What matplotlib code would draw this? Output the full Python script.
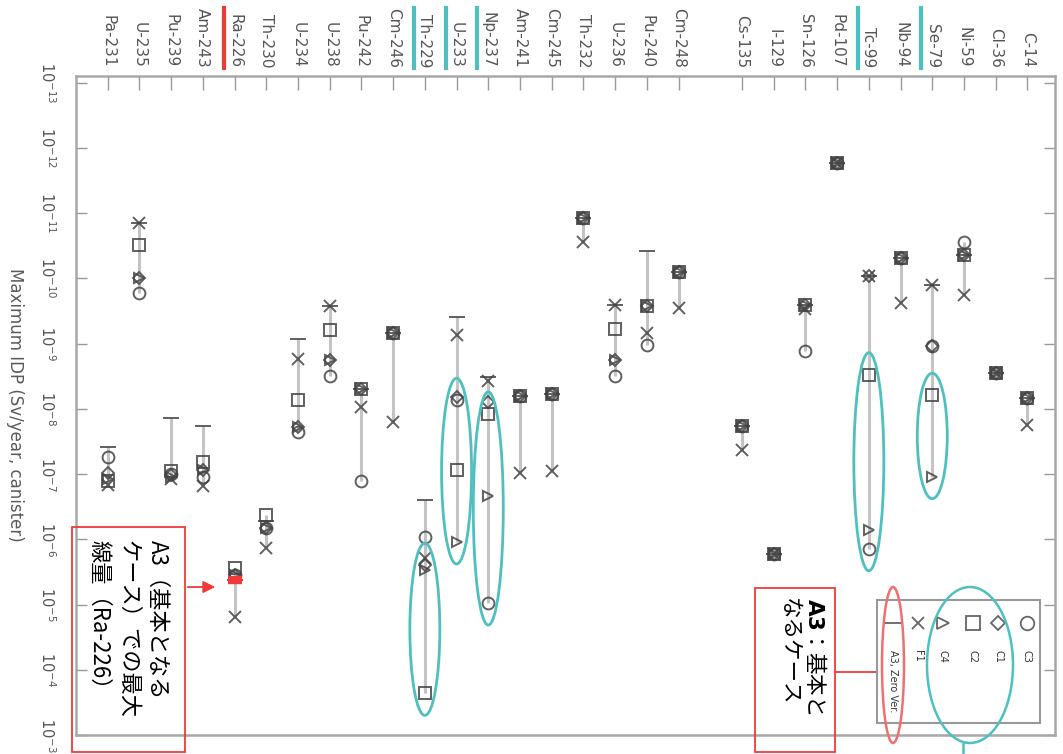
import numpy as np
import matplotlib
matplotlib.use("Agg")
import matplotlib.pyplot as plt
from matplotlib.patches import Ellipse, Rectangle, FancyArrowPatch
from matplotlib.lines import Line2D
from matplotlib.ticker import NullLocator

# ---------------- data ----------------
nuclides = ["Pa-231", "U-235", "Pu-239", "Am-243", "Ra-226", "Th-230", "U-234", "U-238",
            "Pu-242", "Cm-246", "Th-229", "U-233", "Np-237", "Am-241", "Cm-245", "Th-232",
            "U-236", "Pu-240", "Cm-248",
            "Cs-135", "I-129", "Sn-126", "Pd-107", "Tc-99", "Nb-94", "Se-79", "Ni-59",
            "Cl-36", "C-14"]
n_actinides = 19  # a blank slot separates actinides from fission/activation products

C3 = [5.4e-8, 1.7e-10, 1.0e-7, 1.1e-7, 3.5e-6, 6.8e-7, 2.3e-8, 3.2e-9, 1.26e-7, 6.9e-10,
      9.1e-7, 7.4e-9, 9.5e-6, 6.3e-9, 5.9e-9, 1.2e-11, 3.2e-9, 1.05e-9, 8.0e-11,
      1.85e-8, 1.66e-6, 1.3e-9, 1.7e-12, 1.4e-6, 4.9e-11, 1.1e-9, 2.8e-11, 2.8e-9, 6.9e-9]
C1 = [9.5e-8, 1.0e-10, 1.05e-7, 8.7e-8, 3.5e-6, 6.8e-7, 1.9e-8, 1.8e-9, 5.0e-9, 6.9e-10,
      2.5e-6, 6.6e-9, 8.0e-9, 6.3e-9, 5.9e-9, 1.2e-11, 1.8e-9, 2.7e-10, 8.0e-11,
      1.85e-8, 1.66e-6, 2.6e-10, 1.7e-12, 9.3e-11, 4.9e-11, 1.1e-9, 4.4e-11, 2.8e-9, 6.9e-9]
C2 = [1.3e-7, 3.1e-11, 9.0e-8, 6.5e-8, 2.8e-6, 4.3e-7, 7.4e-9, 6.2e-10, 5.0e-9, 6.9e-10,
      2.3e-4, 8.7e-8, 1.2e-8, 6.3e-9, 5.9e-9, 1.2e-11, 5.9e-10, 2.7e-10, 8.0e-11,
      1.85e-8, 1.66e-6, 2.6e-10, 1.7e-12, 3.0e-9, 4.9e-11, 6.2e-9, 4.4e-11, 2.8e-9, 6.9e-9]
C4 = [1.2e-7, 1.0e-10, 1.1e-7, 8.7e-8, 3.5e-6, 6.8e-7, 1.9e-8, 1.8e-9, 5.0e-9, 6.9e-10,
      2.95e-6, 1.1e-6, 2.2e-7, 6.3e-9, 5.9e-9, 1.2e-11, 1.8e-9, 2.7e-10, 8.0e-11,
      1.85e-8, 1.66e-6, 2.6e-10, 1.7e-12, 7.2e-7, 4.9e-11, 1.1e-7, 4.4e-11, 2.8e-9, 6.9e-9]
F1 = [1.5e-7, 1.4e-11, 1.2e-7, 1.55e-7, 1.55e-5, 1.35e-6, 1.7e-9, 2.7e-10, 9.3e-9, 1.6e-8,
      1.95e-6, 7.4e-10, 3.8e-9, 9.8e-8, 9.1e-8, 2.8e-11, 2.6e-10, 6.9e-10, 2.9e-10,
      4.3e-8, 1.66e-6, 3.0e-10, 1.7e-12, 9.3e-11, 2.4e-10, 1.26e-10, 1.8e-10, 2.8e-9, 1.8e-8]
A3 = [3.8e-8, 1.4e-11, 1.4e-8, 1.85e-8, 4.2e-6, 5.3e-7, 8.5e-10, 2.7e-10, 5.0e-9, 6.9e-10,
      2.5e-7, 3.9e-10, 3.3e-9, 6.3e-9, 5.9e-9, 1.2e-11, 2.6e-10, 3.8e-11, 8.0e-11,
      1.85e-8, 1.66e-6, 2.6e-10, 1.7e-12, 9.3e-11, 4.9e-11, 1.26e-10, 4.4e-11, 2.8e-9, 6.9e-9]

series_names = ["C3", "C1", "C2", "C4", "F1", "A3, Zero Ver."]
series_vals = [C3, C1, C2, C4, F1, A3]

ytick_exps = list(range(-13, -2))

teal_marked = ["Th-229", "U-233", "Np-237", "Tc-99", "Se-79"]
red_marked = ["Ra-226"]
# highlighted ranges (nuclide, lower series, upper series)
highlight = [("Th-229", "C1", "C2"), ("U-233", "C3", "C4"), ("Np-237", "C2", "C3"),
             ("Tc-99", "C2", "C3"), ("Se-79", "C2", "C4")]

# ---------------- figure ----------------
W, H = 1063, 754
plt.rcParams["font.family"] = ["DejaVu Sans"]
fig = plt.figure(figsize=(W / 100, H / 100), dpi=100)
ax = fig.add_axes([76 / W, 1 - 735 / H, (1055 - 76) / W, (735 - 76) / H])

def fx(x):
    return x / W

def fy(y):
    return 1 - y / H

pos = np.array([i if i < n_actinides else i + 1 for i in range(len(nuclides))], dtype=float)
vals = np.array(series_vals)

TEAL = "#4fc0c0"
RED = "#f03a3a"
MK = "#444444"

# range lines
ax.vlines(pos, vals.min(axis=0), vals.max(axis=0), color="#c4c4c4", lw=2.2, zorder=1)

styles = {"C3": ("o", 8.5), "C1": ("D", 6.0), "C2": ("s", 9.0),
          "C4": (">", 7.5), "F1": ("x", 8.0), "A3, Zero Ver.": ("_", 11)}
for name, v in zip(series_names, series_vals):
    m, s = styles[name]
    ax.plot(pos, v, linestyle="none", marker=m, ms=s, mfc="none", mec=MK,
            mew=1.4, alpha=0.85, zorder=3)

# red highlight of A3 for Ra-226
for nm in red_marked:
    i = nuclides.index(nm)
    ax.plot([pos[i]], [A3[i]], marker="_", ms=10, mew=6, color=RED, zorder=4)

ax.set_yscale("log")
ax.set_ylim(1e-3, 10 ** -13.1)
ax.set_xlim(-1.0, 29.87)
ax.yaxis.set_minor_locator(NullLocator())
ax.set_yticks([10.0 ** k for k in ytick_exps])
ax.set_yticklabels([r"$10^{%d}$" % k for k in ytick_exps], rotation=-90, va="center")
ax.xaxis.tick_top()
ax.set_xticks(pos)
ax.set_xticklabels(nuclides, rotation=-90)
ax.tick_params(axis="x", which="both", top=True, bottom=False, direction="in", length=10,
               width=1, color="#999999", pad=6, labelsize=11, labelcolor="#555555")
ax.tick_params(axis="y", which="both", left=True, right=True, direction="in", length=8,
               width=1, color="#999999", pad=14, labelsize=10.5, labelcolor="#555555")
for sp in ax.spines.values():
    sp.set_color("#a8a8a8")
    sp.set_linewidth(1.8)

fig.text(fx(15), fy(405), "Maximum IDP (Sv/year, canister)", rotation=-90,
         ha="center", va="center", fontsize=12, color="#5a5a5a")

# ---------- highlight ellipses around value ranges ----------
inv = fig.transFigure.inverted()
sidx = {n: k for k, n in enumerate(series_names)}
for nm, lo, hi in highlight:
    i = nuclides.index(nm)
    p1 = ax.transData.transform((pos[i], series_vals[sidx[lo]][i]))
    p2 = ax.transData.transform((pos[i], series_vals[sidx[hi]][i]))
    top = max(p1[1], p2[1]) + 22
    bot = min(p1[1], p2[1]) - 22
    cx = p1[0]
    c = inv.transform((cx, (top + bot) / 2))
    e = Ellipse(c, 30 / W, (top - bot) / H, transform=fig.transFigure,
                fill=False, ec=TEAL, lw=2, zorder=5)
    fig.add_artist(e)

# underline bars next to marked labels
for nm, col in [(n, TEAL) for n in teal_marked] + [(n, RED) for n in red_marked]:
    i = nuclides.index(nm)
    px = ax.transData.transform((pos[i], 1e-8))[0]
    fig.add_artist(Line2D([fx(px - 11)] * 2, [fy(8), fy(68)], transform=fig.transFigure,
                          color=col, lw=3))

# ---------- legend (drawn manually in rotated frame) ----------
fig.add_artist(Rectangle((fx(877), fy(723)), (1040 - 877) / W, (723 - 600) / H,
                         transform=fig.transFigure, fc="white", ec="#999999", lw=1.5, zorder=6))
leg_x = {"A3, Zero Ver.": 893, "F1": 918, "C4": 943, "C2": 973, "C1": 998, "C3": 1027}
for name in series_names:
    m, s = styles[name]
    x = leg_x[name]
    fig.add_artist(Line2D([fx(x)], [fy(623)], transform=fig.transFigure, marker=m,
                          ms=s * 1.15, mfc="none", mec="#666666", mew=1.3, ls="none", zorder=7))
    fig.text(fx(x), fy(650), name, rotation=-90, ha="center", va="top", fontsize=7,
             color="#333333", zorder=7)
fig.add_artist(Ellipse((fx(893), fy(665)), 22 / W, 156 / H, transform=fig.transFigure,
                       fill=False, ec="#f07070", lw=1.8, zorder=8))
fig.add_artist(Ellipse((fx(970), fy(665)), 86 / W, 156 / H, transform=fig.transFigure,
                       fill=False, ec=TEAL, lw=1.8, zorder=8))
fig.add_artist(Line2D([fx(963)] * 2, [fy(743), fy(754)], transform=fig.transFigure,
                      color=TEAL, lw=1.8))

# ---------- callout boxes ----------
JP = ["Noto Sans CJK JP", "DejaVu Sans"]
fig.add_artist(Rectangle((fx(755), fy(752)), 80 / W, (752 - 588) / H,
                         transform=fig.transFigure, fill=False, ec=RED, lw=1.3, zorder=9))
fig.text(fx(803), fy(598), "$\\mathbf{A3}$：基本と\nなるケース", rotation=-90,
         ha="center", va="top", fontsize=15.5, family=JP, linespacing=1.15,
         multialignment="left", color="black", zorder=9)
fig.add_artist(Line2D([fx(835), fx(883)], [fy(672), fy(672)], transform=fig.transFigure,
                      color=RED, lw=1.3))

fig.add_artist(Rectangle((fx(72), fy(752)), (185 - 72) / W, (752 - 527) / H,
                         transform=fig.transFigure, fill=False, ec=RED, lw=1.3, zorder=9))
fig.text(fx(128), fy(540), "A3（基本となる\nケース）での最大\n線量（Ra-226）", rotation=-90,
         ha="center", va="top", fontsize=16, family=JP, linespacing=1.35,
         multialignment="left", color="black", zorder=9)
fig.add_artist(FancyArrowPatch((fx(185), fy(587)), (fx(218), fy(587)),
                               transform=fig.transFigure, arrowstyle="-|>",
                               mutation_scale=18, color=RED, lw=1.3))

fig.savefig("out.png", dpi=100)
